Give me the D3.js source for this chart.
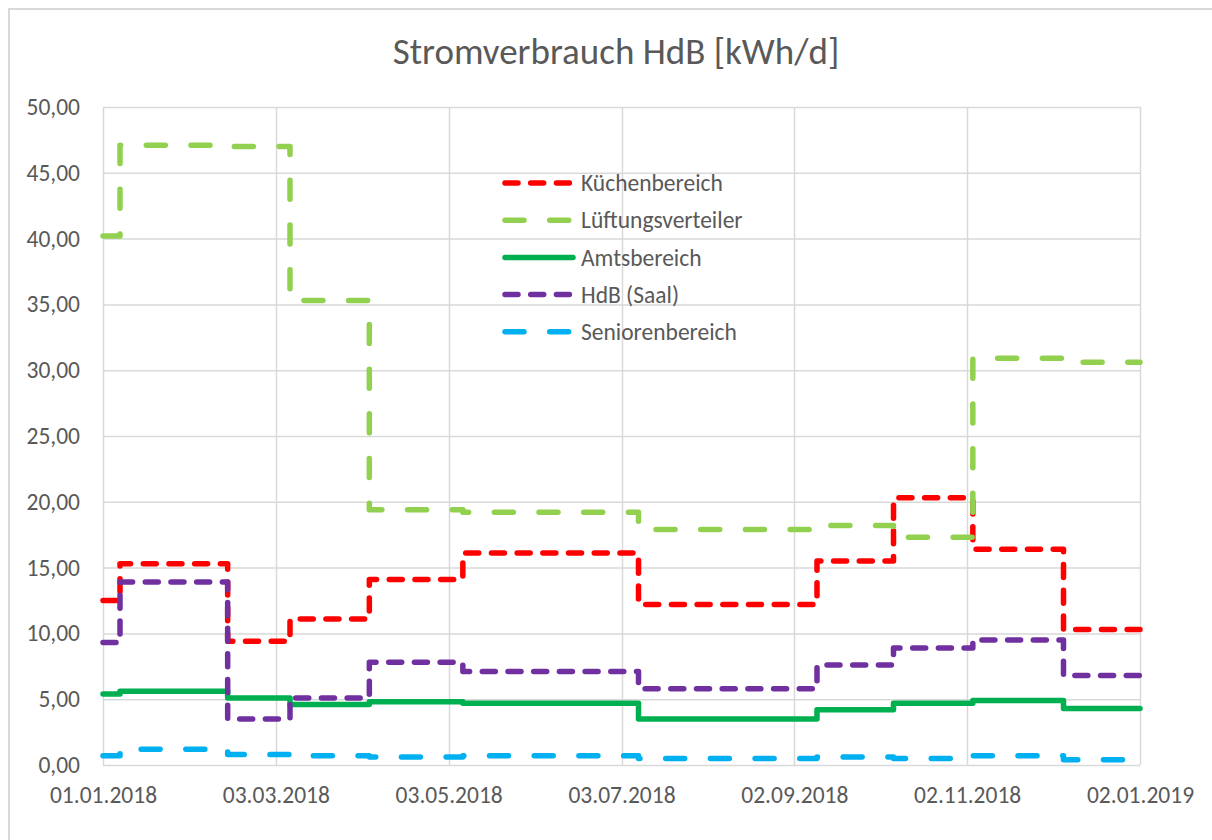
<!DOCTYPE html>
<html>
<head>
<meta charset="utf-8">
<script src="https://cdn.jsdelivr.net/npm/d3@7"></script>
<style>
    body { margin: 0; background: #ffffff; }
    svg { display: block; }
    text { font-family: Carlito, Calibri, Lato, sans-serif; fill: #595959; }
</style>
</head>
<body>
<svg id="chart-svg" width="1212" height="840"></svg>
<script>

// meter reading dates (step boundaries)
const readingDates = ['2018-01-01', '2018-01-07', '2018-02-14', '2018-03-08', '2018-04-05', '2018-05-08',
                      '2018-07-09', '2018-09-10', '2018-10-07', '2018-11-04', '2018-12-06', '2019-01-02'];

// kWh/d for each interval between two readings
const kuechenbereich = [12.5, 15.3, 9.4, 11.1, 14.1, 16.1, 12.2, 15.5, 20.3, 16.4, 10.3];
const lueftungsverteiler = [40.2, 47.1, 47.0, 35.3, 19.4, 19.2, 17.9, 18.2, 17.3, 30.9, 30.6];
const amtsbereich = [5.4, 5.6, 5.1, 4.6, 4.8, 4.7, 3.5, 4.2, 4.7, 4.9, 4.3];
const hdbSaal = [9.3, 13.9, 3.5, 5.1, 7.8, 7.1, 5.8, 7.6, 8.9, 9.5, 6.8];
const seniorenbereich = [0.7, 1.2, 0.8, 0.7, 0.6, 0.7, 0.5, 0.6, 0.5, 0.7, 0.4];

const seriesNames = ['Küchenbereich', 'Lüftungsverteiler', 'Amtsbereich', 'HdB (Saal)', 'Seniorenbereich'];
const seriesValues = [kuechenbereich, lueftungsverteiler, amtsbereich, hdbSaal, seniorenbereich];

const xTickDates = ['2018-01-01', '2018-03-03', '2018-05-03', '2018-07-03', '2018-09-02', '2018-11-02', '2019-01-02'];
const yTickValues = [0, 5, 10, 15, 20, 25, 30, 35, 40, 45, 50];

const titleText = 'Stromverbrauch HdB [kWh/d]';

const seriesColors = ['#ff0000', '#92d050', '#00b050', '#7030a0', '#00b0f0'];
const seriesDashes = ['13,12.7', '19,25.7', null, '13,12.7', '19,25.7'];

const parseDate = d3.timeParse('%Y-%m-%d');
const formatDate = d3.timeFormat('%d.%m.%Y');
const formatValue = d3.formatLocale({decimal: ',', thousands: '.', grouping: [3], currency: ['', '€']}).format('.2f');

const svg = d3.select('#chart-svg');

const margin = {left: 103, right: 1140, top: 107, bottom: 765};
const lineWidth = 5.5;
const labelSize = '23.5px';

const x = d3.scaleTime()
      .domain([parseDate(readingDates[0]), parseDate(readingDates[readingDates.length - 1])])
      .range([margin.left, margin.right]);
const y = d3.scaleLinear()
      .domain([0, 50])
      .range([margin.bottom, margin.top]);

// outer chart border
svg.append('rect')
    .attr('x', 9)
    .attr('y', 9)
    .attr('width', 1400)
    .attr('height', 1000)
    .attr('fill', 'none')
    .attr('stroke', '#d9d9d9')
    .attr('stroke-width', 2);

svg.append('text')
    .attr('x', 616)
    .attr('y', 64)
    .attr('text-anchor', 'middle')
    .style('font-size', '37px')
    .style('font-weight', 300)
    .text(titleText);

// gridlines
const gridGroup = svg.append('g').attr('id', 'grid-group');
gridGroup.selectAll('line.h-grid')
    .data(yTickValues)
    .enter()
    .append('line')
    .attr('class', 'h-grid')
    .attr('x1', margin.left)
    .attr('x2', margin.right)
    .attr('y1', d => y(d) + 0.5)
    .attr('y2', d => y(d) + 0.5)
    .attr('stroke', '#d9d9d9')
    .attr('stroke-width', 1.5);
gridGroup.selectAll('line.v-grid')
    .data(xTickDates.map(parseDate))
    .enter()
    .append('line')
    .attr('class', 'v-grid')
    .attr('x1', d => Math.round(x(d)) + 0.5)
    .attr('x2', d => Math.round(x(d)) + 0.5)
    .attr('y1', margin.top)
    .attr('y2', margin.bottom)
    .attr('stroke', '#d9d9d9')
    .attr('stroke-width', 1.5);

// axes, labels only
const yAxis = d3.axisLeft(y)
      .tickValues(yTickValues)
      .tickFormat(formatValue)
      .tickSize(0)
      .tickPadding(23);
svg.append('g')
    .attr('transform', `translate(${margin.left},0)`)
    .call(yAxis)
    .call(g => g.select('.domain').remove())
    .call(g => g.selectAll('text').style('font-size', labelSize).attr('fill', '#595959').style('font-family', null));

const xAxis = d3.axisBottom(x)
      .tickValues(xTickDates.map(parseDate))
      .tickFormat(formatDate)
      .tickSize(0)
      .tickPadding(21);
svg.append('g')
    .attr('transform', `translate(0,${margin.bottom})`)
    .call(xAxis)
    .call(g => g.select('.domain').remove())
    .call(g => g.selectAll('text').style('font-size', labelSize).attr('fill', '#595959').style('font-family', null));

// step lines
const stepLine = d3.line()
      .x(d => x(d.date))
      .y(d => y(d.value))
      .curve(d3.curveStepAfter);

const seriesData = seriesValues.map((values, index) => {
    const points = values.map((value, i) => ({date: parseDate(readingDates[i]), value}));
    points.push({date: parseDate(readingDates[readingDates.length - 1]), value: values[values.length - 1]});
    return {name: seriesNames[index], color: seriesColors[index], dash: seriesDashes[index], points};
});

const lineGroup = svg.append('g').attr('id', 'line-group');
lineGroup.selectAll('path')
    .data(seriesData)
    .enter()
    .append('path')
    .attr('d', s => stepLine(s.points))
    .attr('fill', 'none')
    .attr('stroke', s => s.color)
    .attr('stroke-width', lineWidth)
    .attr('stroke-dasharray', s => s.dash)
    .attr('stroke-linecap', 'round')
    .attr('stroke-linejoin', 'round');

// legend
const legendGroup = svg.append('g').attr('id', 'legend-group');
const legendItems = legendGroup.selectAll('g')
      .data(seriesData)
      .enter()
      .append('g')
      .attr('transform', (s, i) => `translate(503,${183 + i * 37.2})`);
legendItems.append('line')
    .attr('x1', 2)
    .attr('x2', 70)
    .attr('y1', 0)
    .attr('y2', 0)
    .attr('stroke', s => s.color)
    .attr('stroke-width', lineWidth)
    .attr('stroke-dasharray', s => s.dash)
    .attr('stroke-linecap', 'round');
legendItems.append('text')
    .attr('x', 78)
    .attr('y', 0)
    .attr('dy', '0.35em')
    .style('font-size', labelSize)
    .text(s => s.name);

</script>
</body>
</html>
